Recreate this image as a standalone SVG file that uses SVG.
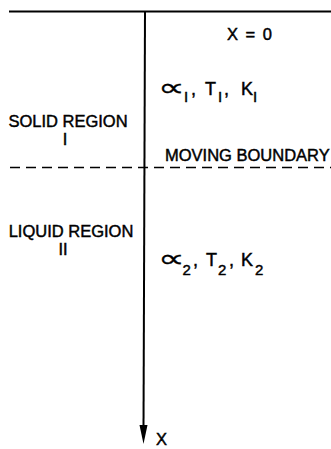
<svg xmlns="http://www.w3.org/2000/svg" width="331" height="449" viewBox="0 0 331 449">
<style>
.t{font-family:"Liberation Sans",Arial,sans-serif;fill:#000;stroke:#000;stroke-width:0.45;font-size:16.5px}
.p{font-size:18px}
.s{font-size:15px}
.a{font-family:"DejaVu Sans",sans-serif;font-size:25px;stroke-width:0.25;letter-spacing:-7px}
.ln{stroke:#000;fill:none}
</style>
<g id="connectors">
<line class="ln" x1="9" y1="11.5" x2="331" y2="11.5" stroke-width="2"/>
<line class="ln" x1="145" y1="11" x2="143.5" y2="426" stroke-width="2"/>
<path d="M139.5,425 L147.5,425 L143.5,444 Z" fill="#000"/>
<line class="ln" x1="10" y1="167.5" x2="331" y2="167.5" stroke-width="1.3" stroke-dasharray="10,6"/>
</g>
<g id="origin"><text class="t" x="227" y="40" font-size="17" word-spacing="3">X = 0</text></g>
<g id="solid">
<text class="t" x="68" y="127" text-anchor="middle">SOLID REGION</text>
<text class="t" x="65" y="145" text-anchor="middle" font-size="14">I</text>
</g>
<g id="props1">
<text class="t a" transform="translate(158,96) scale(1.5,1)" x="0" y="0">∝</text>
<text class="t s" x="184" y="102">I</text>
<text class="t p" x="191" y="95">,</text>
<text class="t p" x="205" y="95">T</text>
<text class="t s" x="218" y="102">I</text>
<text class="t p" x="224" y="95">,</text>
<text class="t p" x="241" y="95">K</text>
<text class="t s" x="253" y="102">I</text>
</g>
<g id="boundary"><text class="t" x="165" y="161">MOVING BOUNDARY</text></g>
<g id="liquid">
<text class="t" x="71" y="237" text-anchor="middle">LIQUID REGION</text>
<text class="t" x="63" y="255" text-anchor="middle" font-size="14">II</text>
</g>
<g id="props2">
<text class="t a" transform="translate(158,267) scale(1.5,1)" x="0" y="0">∝</text>
<text class="t s" x="182.5" y="275">2</text>
<text class="t p" x="193" y="266">,</text>
<text class="t p" x="206" y="266">T</text>
<text class="t s" x="218" y="275">2</text>
<text class="t p" x="229" y="266">,</text>
<text class="t p" x="241" y="266">K</text>
<text class="t s" x="255" y="275">2</text>
</g>
<g id="axis"><text class="t" x="156" y="445" font-size="14">X</text></g>
</svg>
